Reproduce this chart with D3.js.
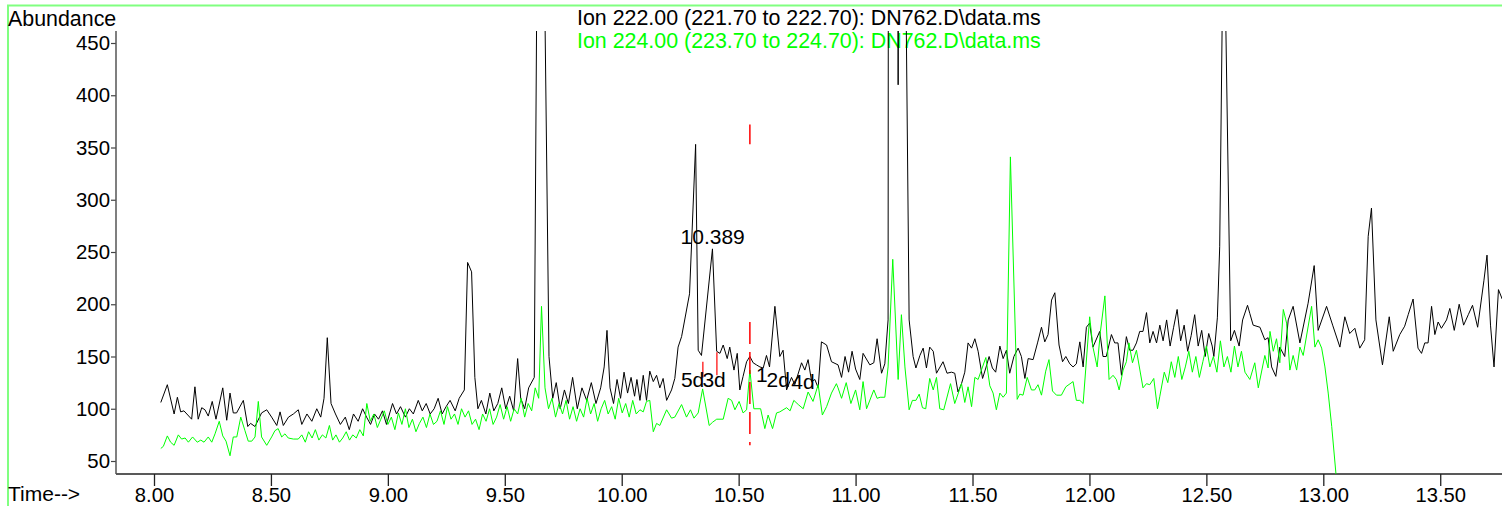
<!DOCTYPE html>
<html>
<head>
<meta charset="utf-8">
<script src="https://cdn.jsdelivr.net/npm/d3@7"></script>
<style>
body { margin: 0; background: #fff; }
svg { display: block; }
text { font-family: Arial, "Liberation Sans", sans-serif; }
</style>
</head>
<body>
<svg></svg>
<script>
// ion traces, [time (min), abundance]
var ion222 = [
[8.029,106],[8.057,123],[8.086,95],[8.100,111],[8.114,97],[8.128,98],[8.161,90],[8.175,121],[8.189,90],[8.204,101],[8.218,99],[8.232,93],[8.249,107],[8.265,90],[8.294,120],[8.311,89],[8.325,115],[8.339,96],[8.353,96],[8.382,108],[8.401,83],[8.413,86],[8.432,83],[8.460,96],[8.482,99],[8.503,92],[8.525,84],[8.539,97],[8.553,84],[8.575,92],[8.596,95],[8.617,99],
[8.632,85],[8.654,95],[8.675,88],[8.696,100],[8.713,92],[8.727,110],[8.741,168],[8.757,105],[8.776,95],[8.797,85],[8.818,92],[8.835,80],[8.853,95],[8.873,88],[8.892,100],[8.909,92],[8.926,85],[8.943,95],[8.960,90],[8.977,98],[8.994,85],[9.020,105],[9.037,95],[9.054,102],[9.075,92],[9.092,100],[9.109,95],[9.130,108],[9.147,98],[9.164,105],[9.181,95],[9.198,100],[9.215,110],[9.232,95],[9.249,102],[9.266,108],[9.288,98],[9.305,110],[9.327,118],[9.341,240],[9.358,231],[9.372,130],[9.385,100],[9.400,108],[9.419,95],[9.436,115],[9.453,98],[9.470,105],[9.487,120],[9.504,100],[9.521,112],[9.538,98],[9.555,148],[9.568,110],[9.585,100],[9.602,120],[9.626,130],[9.642,675],[9.657,757],[9.689,150],[9.705,110],[9.720,125],[9.737,100],[9.755,118],[9.772,105],[9.790,130],[9.810,100],[9.830,120],[9.850,108],[9.870,125],[9.890,105],[9.910,120],[9.925,140],[9.937,175],[9.950,120],[9.965,105],[9.980,128],[9.995,110],[10.010,135],[10.025,115],[10.040,130],[10.055,112],[10.065,128],
[10.078,108],[10.092,132],[10.106,108],[10.120,136],[10.135,126],[10.149,132],[10.163,120],[10.177,129],[10.192,108],[10.213,118],[10.227,129],[10.241,159],[10.256,169],[10.290,210],[10.316,353],[10.327,156],[10.341,151],[10.388,253],[10.406,155],[10.420,153],[10.434,161],[10.451,148],[10.462,159],[10.480,137],[10.494,153],[10.505,118],[10.519,131],[10.534,145],[10.548,150],[10.562,144],[10.576,142],[10.591,140],[10.605,139],[10.619,151],[10.632,140],[10.655,198],[10.676,150],[10.690,156],[10.705,118],[10.726,130],[10.740,123],[10.769,144],[10.783,137],[10.797,147],[10.812,126],[10.826,128],[10.840,120],[10.854,164],[10.876,161],[10.897,145],[10.925,142],
[10.940,130],[10.955,150],[10.970,135],[10.985,155],[11.000,138],
[11.018,128],[11.032,153],[11.061,142],[11.078,144],[11.092,167],[11.111,134],[11.125,143],[11.139,185],[11.153,5000],[11.168,5000],[11.182,410],[11.196,3000],[11.211,600],[11.229,185],[11.246,150],[11.258,139],[11.275,151],[11.289,158],[11.303,139],[11.317,159],[11.332,155],[11.346,134],[11.374,145],[11.391,134],[11.410,135],[11.424,134],[11.438,116],[11.453,124],[11.467,135],[11.481,163],[11.496,158],[11.510,167],[11.524,155],[11.543,129],[11.557,139],[11.571,150],[11.585,139],[11.599,135],[11.617,160],[11.631,148],[11.645,156],[11.659,134],[11.677,150],[11.695,158],[11.709,150],[11.724,129],[11.738,148],[11.759,147],[11.778,163],[11.795,178],[11.809,164],[11.823,171],[11.838,204],[11.852,211],[11.870,161],[11.885,145],[11.899,150],[11.916,143],[11.930,140],[11.944,143],[11.959,164],[11.973,140],[11.987,178],[12.001,182],[12.015,159],[12.044,174],[12.058,150],[12.072,150],[12.094,171],[12.108,163],[12.122,163],[12.137,132],[12.158,169],[12.172,156],[12.186,156],[12.201,163],[12.215,174],[12.229,174],[12.244,192],[12.258,163],[12.272,174],[12.287,163],[12.301,180],
[12.315,165],[12.330,185],[12.345,160],[12.360,178],[12.375,195],[12.390,165],[12.405,180],[12.420,155],[12.435,170],[12.450,190],[12.465,160],[12.480,175],[12.495,150],[12.510,172],[12.525,160],[12.532,150],[12.547,187],[12.557,255],[12.574,600],[12.604,165],[12.620,175],[12.640,160],[12.655,185],[12.676,199],
[12.686,191],[12.700,180],[12.729,178],[12.750,166],[12.764,168],[12.779,140],[12.797,131],[12.814,159],[12.835,150],[12.850,185],[12.871,198],[12.900,163],[12.935,201],[12.961,237],[12.978,175],[13.014,198],[13.040,180],[13.071,159],[13.092,188],[13.113,172],[13.135,177],[13.156,158],[13.177,166],[13.192,265],[13.206,292],[13.225,185],[13.253,142],[13.282,188],[13.299,155],[13.327,171],[13.348,179],[13.363,190],[13.384,205],[13.405,158],[13.420,153],[13.434,163],[13.448,163],[13.463,198],[13.477,171],[13.491,183],[13.505,177],[13.527,185],[13.541,196],[13.560,175],[13.581,200],[13.600,180],[13.620,190],[13.638,199],[13.660,178],[13.687,223],[13.700,247],[13.715,180],[13.730,140],[13.749,214],[13.765,205]
];

var ion224 = [
[8.029,62],[8.040,64],[8.057,74],[8.071,68],[8.086,65],[8.104,75],[8.118,71],[8.133,72],[8.147,68],[8.165,73],[8.185,68],[8.200,70],[8.214,68],[8.232,73],[8.247,68],[8.261,76],[8.279,88],[8.294,74],[8.308,69],[8.325,55],[8.339,73],[8.354,73],[8.371,92],[8.389,79],[8.403,69],[8.418,69],[8.432,73],[8.446,107],[8.460,73],[8.482,65],[8.503,73],[8.517,79],[8.531,81],[8.546,73],[8.560,76],[8.574,72],[8.596,71],[8.617,71],
[8.632,75],[8.647,68],[8.661,78],[8.676,72],[8.690,80],[8.705,70],[8.720,75],[8.735,72],[8.750,84],[8.764,70],[8.778,75],[8.793,68],[8.807,72],[8.822,78],[8.836,70],[8.850,75],[8.865,72],[8.880,80],[8.895,74],[8.910,105],[8.925,88],[8.940,95],[8.955,82],[8.970,90],[8.985,98],[9.000,85],[9.015,92],[9.030,80],[9.045,96],[9.060,85],[9.075,100],[9.090,82],[9.105,90],[9.120,78],[9.135,86],[9.150,92],[9.165,82],[9.180,95],[9.195,85],[9.210,88],[9.225,98],[9.240,85],[9.255,102],[9.270,90],[9.285,95],[9.300,85],[9.315,100],[9.330,92],[9.345,98],[9.360,85],[9.375,90],[9.390,80],[9.405,95],[9.420,88],[9.435,100],[9.450,85],[9.465,92],[9.480,104],[9.495,90],[9.510,102],[9.525,88],[9.540,100],[9.555,95],[9.570,110],[9.585,92],[9.600,105],[9.615,98],[9.630,120],[9.645,110],[9.657,198],[9.672,120],[9.687,100],[9.702,110],[9.717,92],[9.732,105],[9.747,95],[9.762,108],[9.777,90],[9.792,102],[9.807,88],[9.822,100],[9.837,92],[9.852,110],[9.867,95],[9.882,105],[9.897,88],[9.912,100],[9.927,108],[9.942,95],[9.957,102],[9.972,90],[9.987,110],[10.002,96],[10.017,105],[10.032,92],[10.047,108],[10.062,95],
[10.078,99],[10.092,97],[10.106,107],[10.120,108],[10.135,78],[10.149,86],[10.163,84],[10.192,99],[10.213,91],[10.227,92],[10.256,104],[10.277,92],[10.294,99],[10.309,91],[10.327,96],[10.346,119],[10.374,84],[10.388,87],[10.406,90],[10.434,90],[10.455,110],[10.470,108],[10.484,99],[10.502,107],[10.519,96],[10.534,99],[10.548,137],[10.565,100],[10.594,100],[10.612,81],[10.626,94],[10.645,81],[10.662,96],[10.676,97],[10.705,101],[10.720,98],[10.736,108],[10.755,104],[10.776,100],[10.797,116],[10.818,107],[10.840,123],[10.858,94],[10.876,102],[10.897,115],[10.918,124],[10.925,120],
[10.940,110],[10.960,125],[10.980,105],[11.000,118],
[11.018,99],[11.032,126],[11.047,100],[11.078,118],[11.092,110],[11.105,111],[11.125,111],[11.139,140],[11.159,243],[11.182,128],[11.196,190],[11.211,140],[11.229,99],[11.243,108],[11.258,108],[11.272,114],[11.286,101],[11.300,100],[11.317,129],[11.332,118],[11.346,130],[11.360,100],[11.377,99],[11.406,124],[11.424,105],[11.453,124],[11.467,106],[11.481,121],[11.496,102],[11.510,130],[11.524,128],[11.557,149],[11.574,122],[11.588,115],[11.602,99],[11.617,115],[11.631,111],[11.645,115],[11.662,341],[11.691,109],[11.702,114],[11.716,113],[11.734,130],[11.752,118],[11.766,118],[11.780,123],[11.795,113],[11.813,136],[11.827,147],[11.842,117],[11.859,113],[11.880,113],[11.899,121],[11.930,126],[11.944,108],[11.959,108],[11.973,105],[12.001,188],[12.015,159],[12.033,140],[12.047,174],[12.066,208],[12.084,128],[12.101,132],[12.115,128],[12.127,118],[12.144,137],[12.158,145],[12.169,163],[12.184,144],[12.201,156],[12.229,120],[12.244,124],[12.258,123],[12.275,129],[12.291,100],[12.301,112],
[12.320,135],[12.335,125],[12.350,145],[12.365,130],[12.380,150],[12.395,128],[12.410,140],[12.425,155],[12.440,135],[12.455,150],[12.470,130],[12.485,145],[12.500,160],[12.515,140],[12.530,150],[12.545,135],[12.560,165],[12.575,140],[12.590,150],[12.605,135],[12.620,160],[12.635,140],[12.650,155],[12.665,135],
[12.686,128],[12.707,144],[12.722,120],[12.750,151],[12.764,139],[12.772,174],[12.786,155],[12.800,167],[12.814,144],[12.829,195],[12.843,182],[12.857,137],[12.871,151],[12.886,137],[12.900,159],[12.914,151],[12.950,198],[12.964,159],[12.978,166],[12.993,158],[13.007,140],[13.021,115],[13.036,83],[13.054,38],[13.070,0]
];

var ionLabels = ["Ion 222.00 (221.70 to 222.70): DN762.D\\data.ms",
                 "Ion 224.00 (223.70 to 224.70): DN762.D\\data.ms"];
var xMajor = [8, 8.5, 9, 9.5, 10, 10.5, 11, 11.5, 12, 12.5, 13, 13.5];
var yMajor = [50, 100, 150, 200, 250, 300, 350, 400, 450];

// peak / compound annotations
var peakLabel = {t: 10.389, v: 253, text: "10.389"};
var compoundLabels = [["5d", 10.253, 121], ["3d", 10.345, 121], ["1", 10.574, 126], ["2d", 10.619, 121], ["4d", 10.725, 119]];
var expectedRT = 10.548;
var rtTop = [353, 372];
var rtWindow = [65, 183];
var integMarks = [[10.347, 130, 145], [10.407, 132, 154]];

var W = 1502, H = 506;
var svg = d3.select('svg').attr('width', W).attr('height', H);

svg.append('rect').attr('width', W).attr('height', H).attr('fill', '#fff');
svg.append('rect')
    .attr('x', 8).attr('y', 5.5)
    .attr('width', 1500).attr('height', 520)
    .attr('fill', 'none')
    .attr('stroke', '#80ff80')
    .attr('stroke-width', 2);

var x = d3.scaleLinear().domain([8, 13]).range([154, 1323.3]);
var y = d3.scaleLinear().domain([50, 450]).range([461, 43]);

var plotL = 116, plotR = 1502, plotT = 31, plotB = 474;

// titles
svg.append('text').attr('x', 8).attr('y', 26).style('font-size', '21.4px').text('Abundance');
svg.append('text').attr('x', 8).attr('y', 501).style('font-size', '21px').text('Time-->');
svg.selectAll('.ion-title')
    .data(ionLabels)
    .enter()
    .append('text')
    .attr('class', 'ion-title')
    .attr('x', 577)
    .attr('y', (d, i) => 25 + i * 23)
    .style('font-size', '21.4px')
    .attr('fill', (d, i) => i == 0 ? '#000' : '#00ff00')
    .text(d => d);

// x axis
var xg = svg.append('g').attr('transform', 'translate(0,' + plotB + ')');
xg.call(d3.axisBottom(x).tickValues(d3.range(79, 138).map(d => d / 10)).tickSize(6).tickFormat(''));
xg.call(d3.axisBottom(x).tickValues(xMajor).tickSize(12).tickFormat(d3.format('.2f')));
xg.selectAll('.domain').remove();
xg.selectAll('line').attr('stroke', '#222').attr('stroke-width', 1.3);
xg.selectAll('text').attr('y', 28).attr('dy', 0).style('font-size', '20.2px').attr('fill', '#000').attr('font-family', null);
xg.append('line').attr('x1', plotL).attr('x2', plotR).attr('stroke', '#222').attr('stroke-width', 1.5);

// y axis
var yg = svg.append('g').attr('transform', 'translate(' + plotL + ',0)');
yg.call(d3.axisLeft(y).tickValues(d3.range(40, 461, 10)).tickSize(2).tickFormat(''));
yg.call(d3.axisLeft(y).tickValues(yMajor).tickSize(5).tickFormat(d3.format('d')));
yg.selectAll('.domain').remove();
yg.selectAll('line').attr('stroke', '#444').attr('stroke-width', 1.2);
yg.selectAll('text').attr('x', -6).style('font-size', '20.4px').attr('fill', '#000').attr('font-family', null);
yg.append('line').attr('y1', plotT).attr('y2', plotB).attr('stroke', '#555').attr('stroke-width', 1.5);

// traces
svg.append('clipPath').attr('id', 'plot-clip')
    .append('rect').attr('x', plotL).attr('y', plotT).attr('width', plotR - plotL).attr('height', plotB - plotT);

var line = d3.line().x(d => x(d[0])).y(d => y(d[1]));
var traces = svg.append('g').attr('clip-path', 'url(#plot-clip)');
traces.append('path').datum(ion222).attr('d', line)
    .attr('fill', 'none').attr('stroke', '#000').attr('stroke-width', 1);
traces.append('path').datum(ion224).attr('d', line)
    .attr('fill', 'none').attr('stroke', '#00ff00').attr('stroke-width', 1);

// red markers
svg.append('line')
    .attr('x1', x(expectedRT)).attr('x2', x(expectedRT))
    .attr('y1', y(rtTop[1])).attr('y2', y(rtTop[0]))
    .attr('stroke', 'red').attr('stroke-width', 1.5);
svg.append('line')
    .attr('x1', x(expectedRT)).attr('x2', x(expectedRT))
    .attr('y1', y(rtWindow[1])).attr('y2', y(rtWindow[0]))
    .attr('stroke', 'red').attr('stroke-width', 1.5)
    .attr('stroke-dasharray', '22,8');
svg.selectAll('.integ')
    .data(integMarks)
    .enter()
    .append('line')
    .attr('class', 'integ')
    .attr('x1', d => x(d[0])).attr('x2', d => x(d[0]))
    .attr('y1', d => y(d[2])).attr('y2', d => y(d[1]))
    .attr('stroke', 'red').attr('stroke-width', 1.2);

// labels
svg.append('text')
    .attr('x', x(peakLabel.t)).attr('y', y(peakLabel.v) - 5)
    .attr('text-anchor', 'middle')
    .style('font-size', '21px')
    .text(peakLabel.text);
svg.selectAll('.cmp')
    .data(compoundLabels)
    .enter()
    .append('text')
    .attr('class', 'cmp')
    .attr('x', d => x(d[1])).attr('y', d => y(d[2]))
    .style('font-size', '21px')
    .text(d => d[0]);
</script>
</body>
</html>
